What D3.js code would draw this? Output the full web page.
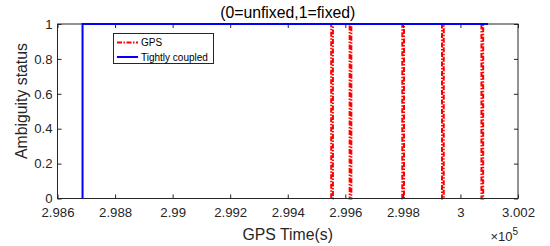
<!DOCTYPE html>
<html><head><meta charset="utf-8">
<script src="https://cdn.jsdelivr.net/npm/d3@7"></script>
<style>body{margin:0;background:#fff}svg{display:block}text{font-family:"Liberation Sans",Arial,sans-serif}</style>
</head><body>
<svg id="c" width="550" height="246"></svg>
<script>
const xTicks = [298600, 298800, 299000, 299200, 299400, 299600, 299800, 300000, 300200];
const xTickLabels = ["2.986","2.988","2.99","2.992","2.994","2.996","2.998","3","3.002"];
const yTicks = [0, 0.2, 0.4, 0.6, 0.8, 1];
const yTickLabels = ["0","0.2","0.4","0.6","0.8","1"];
const gpsTime =   [298687, 299551, 299551, 299557, 299557, 299615, 299615, 299621, 299621, 299798, 299798, 299804, 299804, 299936, 299936, 299942, 299942, 300073, 300073, 300079, 300079, 300096];
const gpsStatus = [1, 1, 0, 0, 1, 1, 0, 0, 1, 1, 0, 0, 1, 1, 0, 0, 1, 1, 0, 0, 1, 1];
const tcTime =   [298687, 298687, 300096];
const tcStatus = [0, 1, 1];
const seriesNames = ["GPS", "Tightly coupled"];
const seriesColors = ["#ff0000", "#0000ff"];
const title = "(0=unfixed,1=fixed)";
const xLabel = "GPS Time(s)";
const yLabel = "Ambiguity status";

const svg = d3.select("#c");
const L = 57.5, R = 518, T = 24, B = 198.5;
const x = d3.scaleLinear().domain([298600, 300200]).range([L, R]);
const y = d3.scaleLinear().domain([0, 1]).range([B, T]);

const line = d3.line().x(d => x(d[0])).y(d => y(d[1]));
const gpsData = gpsTime.map((t, i) => [t, gpsStatus[i]]);
const tcData = tcTime.map((t, i) => [t, tcStatus[i]]);

svg.append("path").datum(gpsData).attr("d", line).attr("fill", "none")
  .attr("stroke", seriesColors[0]).attr("stroke-width", 2).attr("stroke-dasharray", "5,1.5,1.5,1.5");

const ax = svg.append("g").attr("stroke", "#262626").attr("fill", "none");
ax.append("rect").attr("x", L).attr("y", T).attr("width", R - L).attr("height", B - T).attr("stroke-width", 1);

const xb = svg.append("g").attr("transform", `translate(0,${B})`)
  .call(d3.axisBottom(x).tickValues(xTicks).tickSizeInner(-4).tickSizeOuter(0).tickPadding(9.5)
    .tickFormat((d, i) => xTickLabels[i]));
xb.select(".domain").remove();
xb.selectAll("line").attr("stroke", "#262626");
xb.selectAll("text").attr("font-size", 13.2).attr("fill", "#262626");
const xt = svg.append("g").attr("transform", `translate(0,${T})`)
  .call(d3.axisTop(x).tickValues(xTicks).tickSizeInner(-4).tickSizeOuter(0).tickFormat(""));
xt.select(".domain").remove();
xt.selectAll("line").attr("stroke", "#262626");

const yl = svg.append("g").attr("transform", `translate(${L},0)`)
  .call(d3.axisLeft(y).tickValues(yTicks).tickSizeInner(-4).tickSizeOuter(0).tickPadding(5)
    .tickFormat((d, i) => yTickLabels[i]));
yl.select(".domain").remove();
yl.selectAll("line").attr("stroke", "#262626");
yl.selectAll("text").attr("font-size", 13.2).attr("fill", "#262626");
const yr = svg.append("g").attr("transform", `translate(${R},0)`)
  .call(d3.axisRight(y).tickValues(yTicks).tickSizeInner(-4).tickSizeOuter(0).tickFormat(""));
yr.select(".domain").remove();
yr.selectAll("line").attr("stroke", "#262626");

svg.append("path").datum(tcData).attr("d", line).attr("fill", "none")
  .attr("stroke", seriesColors[1]).attr("stroke-width", 2);

svg.append("text").attr("x", (L + R) / 2).attr("y", 18).attr("text-anchor", "middle")
  .attr("font-size", 15.8).attr("fill", "#000").text(title);
svg.append("text").attr("x", (L + R) / 2).attr("y", 240).attr("text-anchor", "middle")
  .attr("font-size", 15.8).attr("fill", "#262626").text(xLabel);
svg.append("text").attr("transform", `translate(27,101) rotate(-90)`).attr("text-anchor", "middle")
  .attr("font-size", 15.8).attr("fill", "#262626").text(yLabel);
const ex = svg.append("text").attr("x", 518).attr("y", 241).attr("text-anchor", "end")
  .attr("font-size", 13).attr("fill", "#262626");
ex.append("tspan").text("×10");
ex.append("tspan").attr("dy", -6).attr("font-size", 10).text("5");

const lg = svg.append("g");
lg.append("rect").attr("x", 113.5).attr("y", 33.5).attr("width", 100).attr("height", 30)
  .attr("fill", "#fff").attr("stroke", "#262626").attr("stroke-width", 1);
seriesNames.forEach((n, i) => {
  const yy = 42.5 + i * 14.5;
  lg.append("line").attr("x1", 117).attr("x2", 138).attr("y1", yy).attr("y2", yy)
    .attr("stroke", seriesColors[i]).attr("stroke-width", 2)
    .attr("stroke-dasharray", i === 0 ? "5,1.5,1.5,1.5" : null);
  lg.append("text").attr("x", 141).attr("y", yy + 3.5).attr("font-size", 10).attr("fill", "#000").text(n);
});
</script>
</body></html>
